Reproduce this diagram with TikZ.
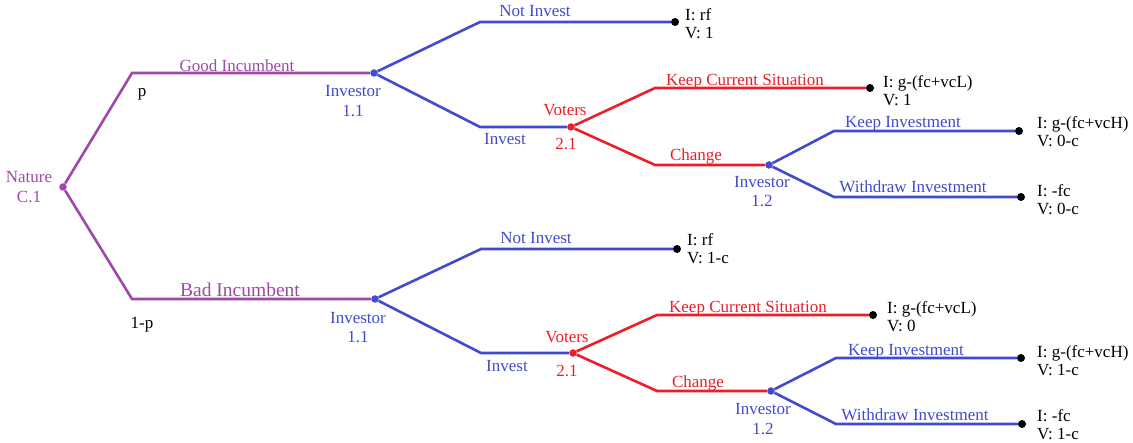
\documentclass[tikz,border=0pt]{standalone}
\usepackage{fontspec}
\setmainfont{Liberation Serif}
\usepackage{xcolor}
\usepackage{tikz}

\definecolor{natpurple}{RGB}{160,72,170}
\definecolor{invblue}{RGB}{66,74,205}
\definecolor{votred}{RGB}{236,30,40}

\begin{document}
\begin{tikzpicture}[x=1pt,y=-1pt,
    natline/.style={natpurple, line width=2.6pt},
    invline/.style={invblue, line width=2.6pt},
    votline/.style={votred, line width=2.6pt},
    choice/.style={circle, inner sep=0pt, minimum size=7.5pt},
    leaf/.style={circle, fill=black, inner sep=0pt, minimum size=8pt},
    lbl/.style={inner sep=0pt, anchor=base, font=\fontsize{17}{18}\selectfont},
    pay/.style={inner sep=0pt, anchor=west, align=left, font=\fontsize{17}{18}\selectfont}]
    \useasboundingbox (0,0) rectangle (1133,443);

    % Decision points
    \node[choice, fill=natpurple] (nat) at (63,187) {};
    \node[choice, fill=invblue] (invA) at (374,73) {};
    \node[choice, fill=invblue] (invB) at (375,299) {};
    \node[choice, fill=votred] (votA) at (571,127) {};
    \node[choice, fill=votred] (votB) at (573,353) {};
    \node[choice, fill=invblue] (invAA) at (769,165) {};
    \node[choice, fill=invblue] (invBB) at (771,391) {};

    % End points
    \node[leaf] (endA1) at (675,22) {};
    \node[leaf] (endA2) at (870,88) {};
    \node[leaf] (endA3) at (1019,131) {};
    \node[leaf] (endA4) at (1021,197) {};
    \node[leaf] (endB1) at (677,249) {};
    \node[leaf] (endB2) at (873,315) {};
    \node[leaf] (endB3) at (1021,358) {};
    \node[leaf] (endB4) at (1022,424) {};

    % Corners
    \coordinate (cGood) at (132,73);
    \coordinate (cBad) at (132,299);
    \coordinate (cA1) at (480,22);
    \coordinate (cA2) at (480,127);
    \coordinate (cA3) at (655,88);
    \coordinate (cA4) at (655,165);
    \coordinate (cA5) at (834,131);
    \coordinate (cA6) at (834,197);
    \coordinate (cB1) at (481,249);
    \coordinate (cB2) at (481,353);
    \coordinate (cB3) at (657,315);
    \coordinate (cB4) at (657,391);
    \coordinate (cB5) at (836,358);
    \coordinate (cB6) at (836,424);

    % Nature
    \draw[natline] (nat) -- (cGood) -- (invA);
    \draw[natline] (nat) -- (cBad) -- (invB);

    % Good incumbent
    \draw[invline] (invA) -- (cA1) -- (endA1);
    \draw[invline] (invA) -- (cA2) -- (votA);
    \draw[votline] (votA) -- (cA3) -- (endA2);
    \draw[votline] (votA) -- (cA4) -- (invAA);
    \draw[invline] (invAA) -- (cA5) -- (endA3);
    \draw[invline] (invAA) -- (cA6) -- (endA4);

    % Bad incumbent
    \draw[invline] (invB) -- (cB1) -- (endB1);
    \draw[invline] (invB) -- (cB2) -- (votB);
    \draw[votline] (votB) -- (cB3) -- (endB2);
    \draw[votline] (votB) -- (cB4) -- (invBB);
    \draw[invline] (invBB) -- (cB5) -- (endB3);
    \draw[invline] (invBB) -- (cB6) -- (endB4);

    % Player labels
    \node[lbl, natpurple] (natL) at (29,183) {Nature};
    \node[lbl, natpurple] (natN) at (29,203) {C.1};
    \node[lbl, invblue] (invAL) at (353,97) {Investor};
    \node[lbl, invblue] (invAN) at (353,117) {1.1};
    \node[lbl, invblue] (invBL) at (358,324) {Investor};
    \node[lbl, invblue] (invBN) at (358,343) {1.1};
    \node[lbl, votred] (votAL) at (565,116) {Voters};
    \node[lbl, votred] (votAN) at (566,150) {2.1};
    \node[lbl, votred] (votBL) at (567,343) {Voters};
    \node[lbl, votred] (votBN) at (567,377) {2.1};
    \node[lbl, invblue] (invAAL) at (762,188) {Investor};
    \node[lbl, invblue] (invAAN) at (762,207) {1.2};
    \node[lbl, invblue] (invBBL) at (763,415) {Investor};
    \node[lbl, invblue] (invBBN) at (763,435) {1.2};

    % Branch labels
    \node[lbl, natpurple] (good) at (237,72) {Good Incumbent};
    \node[lbl, natpurple, font=\fontsize{19.5}{21}\selectfont] (bad) at (240,297) {Bad Incumbent};
    \node[lbl] (prob) at (142,97) {p};
    \node[lbl] (probc) at (142,329) {1-p};
    \node[lbl, invblue] at (535,17) {Not Invest};
    \node[lbl, invblue] at (505,145) {Invest};
    \node[lbl, votred] at (745,86) {Keep Current Situation};
    \node[lbl, votred] at (696,161) {Change};
    \node[lbl, invblue] at (903,128) {Keep Investment};
    \node[lbl, invblue] at (913,193) {Withdraw Investment};
    \node[lbl, invblue] at (536,244) {Not Invest};
    \node[lbl, invblue] at (507,372) {Invest};
    \node[lbl, votred] at (748,313) {Keep Current Situation};
    \node[lbl, votred] at (698,388) {Change};
    \node[lbl, invblue] at (906,356) {Keep Investment};
    \node[lbl, invblue] at (915,421) {Withdraw Investment};

    % Payoffs
    \node[pay] (payA1) at (685,24) {I: rf\\V: 1};
    \node[pay] (payA2) at (883,91) {I: g-(fc+vcL)\\V: 1};
    \node[pay] (payA3) at (1037,132) {I: g-(fc+vcH)\\V: 0-c};
    \node[pay] (payA4) at (1037,200) {I: -fc\\V: 0-c};
    \node[pay] (payB1) at (687,249) {I: rf\\V: 1-c};
    \node[pay] (payB2) at (887,317) {I: g-(fc+vcL)\\V: 0};
    \node[pay] (payB3) at (1037,361) {I: g-(fc+vcH)\\V: 1-c};
    \node[pay] (payB4) at (1037,425) {I: -fc\\V: 1-c};
\end{tikzpicture}
\end{document}
